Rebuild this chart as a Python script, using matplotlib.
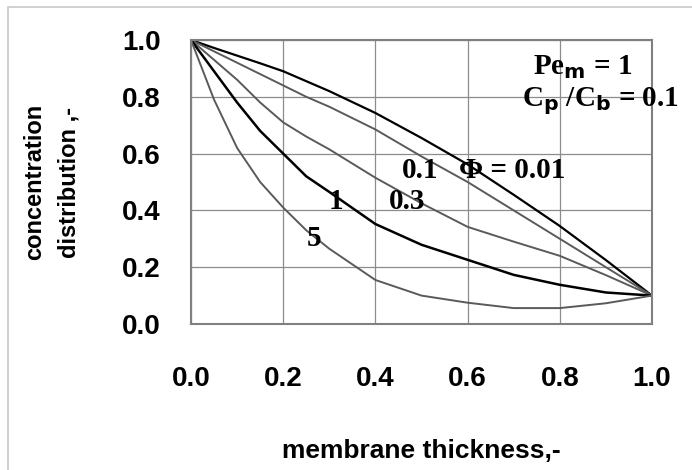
import matplotlib
matplotlib.use('Agg')
import matplotlib.pyplot as plt
from matplotlib.patches import Rectangle

# membrane thickness (dimensionless)
x = [0, 0.05, 0.1, 0.15, 0.2, 0.25, 0.3, 0.4, 0.5, 0.6, 0.7, 0.8, 0.9, 1.0]

# concentration distribution for each Phi
phi_001 = [1.0, 0.972, 0.945, 0.918, 0.89, 0.855, 0.82, 0.743, 0.655, 0.562, 0.455, 0.345, 0.225, 0.10]
phi_01 = [1.0, 0.96, 0.92, 0.88, 0.84, 0.80, 0.765, 0.685, 0.59, 0.50, 0.40, 0.30, 0.20, 0.10]
phi_03 = [1.0, 0.93, 0.86, 0.78, 0.71, 0.66, 0.615, 0.515, 0.425, 0.342, 0.29, 0.24, 0.172, 0.10]
phi_1 = [1.0, 0.89, 0.78, 0.68, 0.60, 0.52, 0.465, 0.352, 0.279, 0.226, 0.173, 0.138, 0.111, 0.10]
phi_5 = [1.0, 0.79, 0.62, 0.50, 0.41, 0.33, 0.265, 0.155, 0.10, 0.075, 0.056, 0.056, 0.073, 0.10]

ticks = [0.0, 0.2, 0.4, 0.6, 0.8, 1.0]
tick_labels = ['0.0', '0.2', '0.4', '0.6', '0.8', '1.0']

fig = plt.figure(figsize=(6.92, 4.70), dpi=100)
# light frame around the chart area (Excel style)
fig.patches.append(Rectangle((8 / 692, -0.2), 2.0, 1.2 - 7 / 470,
                             transform=fig.transFigure, fill=False,
                             edgecolor='#c8c8c8', linewidth=1.2))
ax = fig.add_axes([191 / 692, 1 - 324 / 470, 461 / 692, 284 / 470])

ax.plot(x, phi_001, color='black', lw=1.6)
ax.plot(x, phi_01, color='#5a5a5a', lw=1.4)
ax.plot(x, phi_03, color='#5a5a5a', lw=1.4)
ax.plot(x, phi_1, color='black', lw=1.8)
ax.plot(x, phi_5, color='#5a5a5a', lw=1.4)

ax.set_xlim(0, 1)
ax.set_ylim(0, 1)
ax.set_xticks(ticks)
ax.set_xticklabels(tick_labels)
ax.set_yticks(ticks)
ax.set_yticklabels(tick_labels)
ax.grid(True, color='#8c8c8c', lw=0.9)
ax.tick_params(length=0, labelsize=20)
ax.tick_params(axis='x', pad=30)
ax.tick_params(axis='y', pad=22)
for lab in ax.get_xticklabels() + ax.get_yticklabels():
    lab.set_fontweight('bold')
    lab.set_fontfamily('Liberation Sans')
for s in ax.spines.values():
    s.set_color('#808080')
    s.set_linewidth(1.5)

ax.set_xlabel('membrane thickness,-', fontsize=19, fontweight='bold',
              family='Liberation Sans', labelpad=34)
ax.set_ylabel('concentration\ndistribution ,-', fontsize=17, fontweight='bold',
              family='Liberation Sans', labelpad=30, linespacing=1.6)

tfont = dict(fontsize=21, fontweight='bold', family=['Liberation Serif', 'DejaVu Serif'],
             va='center', clip_on=False)
ax.text(0.498, 0.542, '0.1', ha='center', **tfont)
ax.text(0.582, 0.542, 'Φ = 0.01', ha='left', **tfont)
ax.text(0.314, 0.433, '1', ha='center', **tfont)
ax.text(0.468, 0.430, '0.3', ha='center', **tfont)
ax.text(0.268, 0.300, '5', ha='center', **tfont)
ax.text(0.741, 0.905, r'Pe$_{\mathbf{m}}$ = 1', ha='left', **tfont)
ax.text(0.718, 0.785, r'C$_{\mathbf{p}}$ /C$_{\mathbf{b}}$ = 0.1', ha='left', **tfont)

fig.savefig('out.png', dpi=100)
